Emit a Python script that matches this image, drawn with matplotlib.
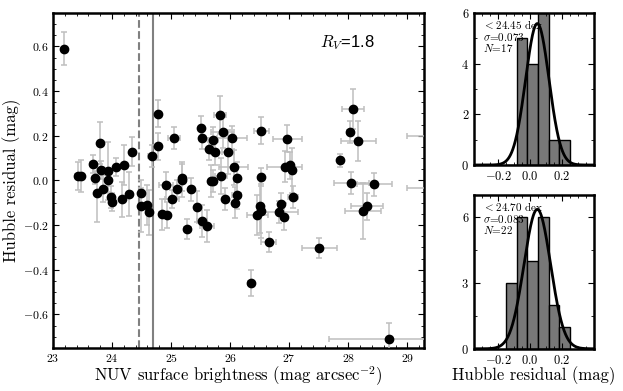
import numpy as np
import matplotlib
matplotlib.use('Agg')
import matplotlib.pyplot as plt
from matplotlib.ticker import AutoMinorLocator, MultipleLocator

plt.rcParams['font.family'] = 'serif'
plt.rcParams['font.serif'] = ['cmr10']
plt.rcParams['mathtext.fontset'] = 'cm'
plt.rcParams['axes.formatter.use_mathtext'] = True

# NUV surface brightness (mag arcsec^-2), Hubble residual (mag) and errors
sb = [23.18, 23.42, 23.47, 23.68, 23.79, 23.72, 23.81, 23.75, 23.85, 23.93,
      23.94, 24.06, 23.99, 24.17, 24.21, 24.29, 24.34, 24.49, 24.67, 24.78,
      24.78, 24.00, 24.49, 24.60, 24.62, 24.85, 24.93, 25.27, 25.43, 25.52,
      25.61, 24.92, 25.01, 25.05, 25.10, 25.19, 25.19, 25.33, 25.50, 25.53,
      25.64, 25.71, 25.75, 25.67, 25.71, 25.83, 25.87, 25.85, 25.96, 26.03,
      26.06, 26.11, 25.91, 26.11, 26.08, 26.35, 26.53, 26.52, 26.46, 26.50,
      26.53, 26.65, 26.97, 26.92, 27.02, 27.04, 26.82, 26.86, 26.91, 27.06,
      27.51, 27.86, 28.08, 28.02, 28.17, 28.05, 28.44, 28.31, 28.25, 28.68,
      29.55, 29.50]
sb_err = [0.0, 0.05, 0.05, 0.05, 0.0, 0.0, 0.0, 0.0, 0.0, 0.0,
          0.0, 0.0, 0.0, 0.0, 0.0, 0.0, 0.0, 0.0, 0.06, 0.0,
          0.0, 0.0, 0.0, 0.0, 0.0, 0.05, 0.0, 0.06, 0.0, 0.08,
          0.12, 0.12, 0.12, 0.10, 0.0, 0.0, 0.0, 0.0, 0.0, 0.0,
          0.0, 0.08, 0.0, 0.0, 0.0, 0.10, 0.20, 0.10, 0.10, 0.25,
          0.25, 0.0, 0.0, 0.08, 0.0, 0.05, 0.12, 0.0, 0.18, 0.0,
          0.0, 0.12, 0.25, 0.30, 0.0, 0.0, 0.33, 0.0, 0.05, 0.08,
          0.30, 0.0, 0.18, 0.05, 0.30, 0.30, 0.30, 0.27, 0.30, 1.0,
          0.55, 0.50]
hr = [0.590, 0.020, 0.020, 0.073, 0.168, 0.012, 0.046, -0.055, -0.037, 0.042,
      0.000, 0.061, -0.073, -0.085, 0.068, -0.061, 0.128, -0.054, 0.110, 0.298,
      0.152, -0.098, -0.115, -0.110, -0.142, -0.151, -0.155, -0.219, -0.118, -0.182,
      -0.204, -0.022, -0.085, 0.190, -0.040, 0.013, 0.004, -0.040, 0.237, 0.190,
      0.140, 0.180, 0.128, -0.003, -0.003, 0.295, 0.216, 0.021, 0.128, 0.192,
      0.058, 0.012, -0.084, -0.066, -0.100, -0.459, 0.222, 0.015, -0.155, -0.115,
      -0.136, -0.277, 0.186, 0.061, 0.067, 0.046, -0.140, -0.107, -0.163, -0.073,
      -0.304, 0.090, 0.320, 0.217, 0.176, -0.012, -0.018, -0.116, -0.137, -0.710,
      0.200, -0.033]
hr_err = [0.073, 0.063, 0.070, 0.040, 0.093, 0.030, 0.040, 0.130, 0.060, 0.130,
          0.050, 0.040, 0.050, 0.080, 0.090, 0.100, 0.065, 0.020, 0.050, 0.060,
          0.060, 0.040, 0.115, 0.090, 0.100, 0.070, 0.060, 0.045, 0.070, 0.070,
          0.070, 0.060, 0.040, 0.050, 0.040, 0.060, 0.080, 0.050, 0.050, 0.050,
          0.050, 0.060, 0.060, 0.070, 0.050, 0.085, 0.070, 0.080, 0.100, 0.050,
          0.080, 0.070, 0.050, 0.060, 0.070, 0.060, 0.060, 0.040, 0.090, 0.120,
          0.120, 0.045, 0.060, 0.070, 0.060, 0.100, 0.050, 0.050, 0.060, 0.050,
          0.045, 0.030, 0.090, 0.050, 0.090, 0.050, 0.050, 0.060, 0.125, 0.070,
          0.0, 0.0]

cut_faint = 24.45
cut_bright = 24.70

# histograms
bin_edges = [-0.15, -0.0833, -0.0167, 0.05, 0.1167, 0.1833, 0.25]
counts_top = [0, 5, 4, 6, 1, 1]
counts_bot = [3, 6, 4, 6, 2, 1]
label_top = '$<$24.45 dex\n$\\sigma$=0.073\n$N$=17'
label_bot = '$<$24.70 dex\n$\\sigma$=0.083\n$N$=22'
gauss_top = (5.58, 0.045, 0.073)   # amplitude, mean, sigma
gauss_bot = (6.35, 0.045, 0.083)

fig = plt.figure(figsize=(6.23, 3.91), dpi=100)
ax = fig.add_axes([0.085, 0.110, 0.5955, 0.857])
ax_t = fig.add_axes([0.761, 0.578, 0.1926, 0.389])
ax_b = fig.add_axes([0.761, 0.108, 0.1926, 0.393])

ax.errorbar(sb, hr, xerr=sb_err, yerr=hr_err, fmt='o', color='black', ms=6,
            ecolor='0.75', elinewidth=1.1, capsize=2.5, capthick=1.1, zorder=3)
ax.axvline(cut_faint, color='0.5', ls='--', lw=1.5, zorder=1)
ax.axvline(cut_bright, color='0.5', ls='-', lw=1.5, zorder=1)
ax.set_xlim(23, 29.28)
ax.set_ylim(-0.75, 0.75)
ax.xaxis.set_major_locator(MultipleLocator(1))
ax.xaxis.set_minor_locator(MultipleLocator(0.2))
ax.yaxis.set_major_locator(MultipleLocator(0.2))
ax.yaxis.set_minor_locator(MultipleLocator(0.05))
ax.set_xlabel('NUV surface brightness (mag arcsec$^{-2}$)', fontsize=12, labelpad=0)
ax.set_ylabel('Hubble residual (mag)', fontsize=12, labelpad=1)
ax.text(0.868, 0.91, '$R_V$=1.8', transform=ax.transAxes, ha='right', va='center',
        fontsize=12, family='Liberation Sans')

xg = np.linspace(-0.35, 0.4, 400)
widths = np.diff(bin_edges)
for a, counts, lab, g, yt, ymax in [(ax_t, counts_top, label_top, gauss_top, [0, 2, 4, 6], 6),
                                     (ax_b, counts_bot, label_bot, gauss_bot, [0, 3, 6], 7)]:
    a.bar(bin_edges[:-1], counts, width=widths, align='edge', color='0.47',
          edgecolor='black', lw=1)
    amp, mu, sig = g
    a.plot(xg, amp * np.exp(-0.5 * ((xg - mu) / sig) ** 2), color='black', lw=2)
    a.set_xlim(-0.35, 0.4)
    a.set_ylim(0, ymax)
    a.set_yticks(yt)
    a.set_xticks([-0.2, 0.0, 0.2])
    a.xaxis.set_minor_locator(MultipleLocator(0.05))
    a.yaxis.set_minor_locator(AutoMinorLocator(2))
    a.text(0.07, 0.965, lab, transform=a.transAxes, ha='left', va='top',
           fontsize=8, linespacing=0.95)
    a.tick_params(labelsize=9)
ax_b.set_xlabel('Hubble residual (mag)', fontsize=12, labelpad=0)

for a in [ax, ax_t, ax_b]:
    for s in a.spines.values():
        s.set_linewidth(1.8)
    a.tick_params(which='both', direction='in', top=True, right=True)
    a.tick_params(which='major', length=4, width=0.8)
    a.tick_params(which='minor', length=2, width=0.6)
ax.tick_params(labelsize=8.5, pad=3)

fig.savefig('out.png', dpi=100)
